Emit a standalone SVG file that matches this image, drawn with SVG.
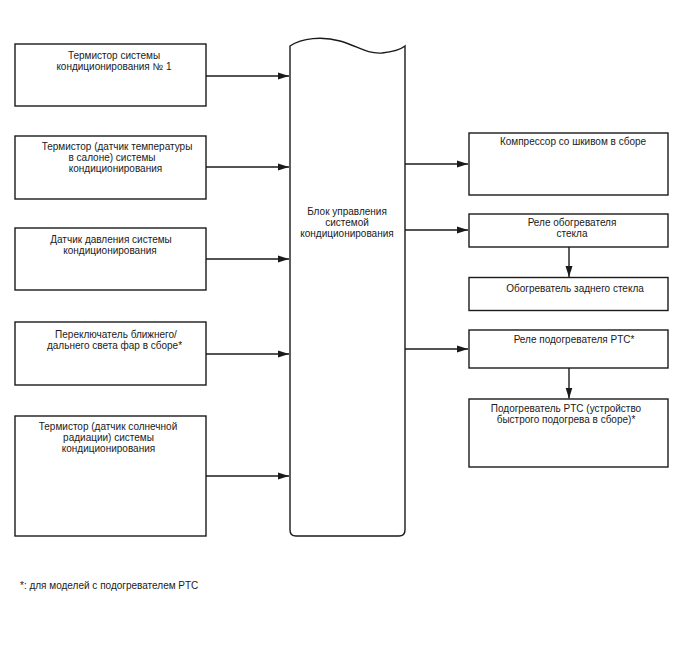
<svg xmlns="http://www.w3.org/2000/svg" width="688" height="658" viewBox="0 0 688 658">
<style>
.box{fill:#fff;stroke:#1a1a1a;stroke-width:1.4}
.ln{stroke:#1a1a1a;stroke-width:1.4;fill:none}
text{font-family:"Liberation Sans",Arial,sans-serif;font-size:10px;fill:#1a1a1a}
.c{text-anchor:middle}
</style>
<defs>
<marker id="ah" markerWidth="11" markerHeight="8" refX="11" refY="4" orient="auto" markerUnits="userSpaceOnUse">
<path d="M0,0.5 L11,4 L0,7.5 Z" fill="#1a1a1a"/>
</marker>
</defs>
<rect width="688" height="658" fill="#fff"/>
<g id="n1"><rect class="box" x="15" y="44" width="191" height="62"/>
<text class="c" x="114" y="58.5">Термистор системы</text>
<text class="c" x="114" y="69.5">кондиционирования № 1</text></g>
<g id="n2"><rect class="box" x="15" y="136" width="191" height="63"/>
<text class="c" x="117" y="150">Термистор (датчик температуры</text>
<text class="c" x="112" y="161">в салоне) системы</text>
<text class="c" x="115.5" y="172">кондиционирования</text></g>
<g id="n3"><rect class="box" x="15" y="228" width="191" height="62"/>
<text class="c" x="111" y="243">Датчик давления системы</text>
<text class="c" x="110" y="254">кондиционирования</text></g>
<g id="n4"><rect class="box" x="15" y="322" width="191" height="63"/>
<text class="c" x="116" y="338">Переключатель ближнего/</text>
<text class="c" x="114.5" y="349">дальнего света фар в сборе*</text></g>
<g id="n5"><rect class="box" x="15" y="416" width="191" height="120"/>
<text class="c" x="108" y="429.5">Термистор (датчик солнечной</text>
<text class="c" x="108.5" y="440.5">радиации) системы</text>
<text class="c" x="108.5" y="451.5">кондиционирования</text></g>
<g id="ecu"><path class="box" d="M290,46 C302,38 322,36 340,41 C358,46 366,54 382,53 C392,52 400,50 405,46 L405,530 Q405,536 399,536 L296,536 Q290,536 290,530 Z"/>
<text class="c" x="347" y="214.5">Блок управления</text>
<text class="c" x="347" y="225.5">системой</text>
<text class="c" x="347" y="236.5">кондиционирования</text></g>
<g id="r1"><rect class="box" x="469" y="133" width="199" height="62"/>
<text class="c" x="573" y="144.5">Компрессор со шкивом в сборе</text></g>
<g id="r2"><rect class="box" x="469" y="214" width="199" height="33"/>
<text class="c" x="572" y="226">Реле обогревателя</text>
<text class="c" x="572" y="237">стекла</text></g>
<g id="r3"><rect class="box" x="469" y="277.5" width="199" height="33"/>
<text class="c" x="575" y="291.5">Обогреватель заднего стекла</text></g>
<g id="r4"><rect class="box" x="469" y="330" width="199" height="38"/>
<text class="c" x="574" y="342.5">Реле подогревателя PTC*</text></g>
<g id="r5"><rect class="box" x="469" y="399" width="199" height="68"/>
<text class="c" x="566" y="411.5">Подогреватель PTC (устройство</text>
<text class="c" x="566" y="422.5">быстрого подогрева в сборе)*</text></g>
<g id="connectors">
<line class="ln" x1="206" y1="76" x2="289" y2="76" marker-end="url(#ah)"/>
<line class="ln" x1="206" y1="167" x2="289" y2="167" marker-end="url(#ah)"/>
<line class="ln" x1="206" y1="259" x2="289" y2="259" marker-end="url(#ah)"/>
<line class="ln" x1="206" y1="354" x2="289" y2="354" marker-end="url(#ah)"/>
<line class="ln" x1="206" y1="476" x2="289" y2="476" marker-end="url(#ah)"/>
<line class="ln" x1="405" y1="164" x2="468" y2="164" marker-end="url(#ah)"/>
<line class="ln" x1="405" y1="230" x2="468" y2="230" marker-end="url(#ah)"/>
<line class="ln" x1="405" y1="349" x2="468" y2="349" marker-end="url(#ah)"/>
<line class="ln" x1="569" y1="247" x2="569" y2="277" marker-end="url(#ah)"/>
<line class="ln" x1="569" y1="368" x2="569" y2="398.5" marker-end="url(#ah)"/>
</g>
<text x="20" y="588.5">*: для моделей с подогревателем PTC</text>
</svg>
